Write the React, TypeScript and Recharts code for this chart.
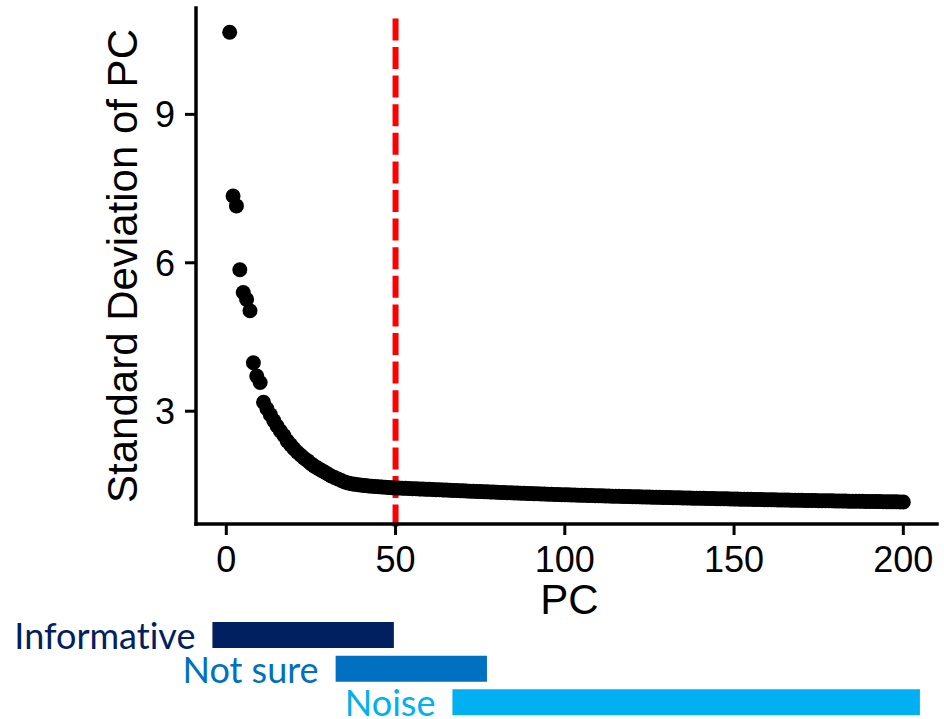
import React from 'react';
import {
  ScatterChart,
  Scatter,
  XAxis,
  YAxis,
  ReferenceLine,
  BarChart,
  Bar,
  Cell,
  LabelList,
} from 'recharts';

// PC index (x categories)
const pcNumbers: number[] = Array.from({ length: 200 }, (_, i) => i + 1);

// Standard deviation of each PC
const sdValues: number[] = [
  10.66, 7.35, 7.15, 5.86, 5.40, 5.26, 5.03, 3.98, 3.71, 3.58,
  3.18, 3.05, 2.93, 2.81, 2.70, 2.60, 2.51, 2.40, 2.32, 2.24,
  2.17, 2.11, 2.05, 2.00, 1.94, 1.89, 1.85, 1.81, 1.77, 1.73,
  1.69, 1.66, 1.63, 1.60, 1.57, 1.55, 1.535, 1.522, 1.512, 1.503,
  1.496, 1.490, 1.485, 1.480, 1.475, 1.470, 1.465, 1.460, 1.455, 1.450,
  1.447, 1.444, 1.441, 1.438, 1.435, 1.432, 1.429, 1.426, 1.423, 1.420,
  1.417, 1.414, 1.411, 1.408, 1.405, 1.402, 1.399, 1.396, 1.393, 1.390,
  1.387, 1.384, 1.382, 1.379, 1.376, 1.373, 1.370, 1.368, 1.365, 1.362,
  1.359, 1.357, 1.354, 1.351, 1.349, 1.346, 1.343, 1.341, 1.338, 1.336,
  1.333, 1.331, 1.328, 1.326, 1.323, 1.321, 1.318, 1.316, 1.313, 1.311,
  1.309, 1.307, 1.305, 1.303, 1.301, 1.299, 1.297, 1.295, 1.293, 1.291,
  1.289, 1.287, 1.285, 1.283, 1.282, 1.280, 1.278, 1.276, 1.274, 1.273,
  1.271, 1.269, 1.267, 1.266, 1.264, 1.262, 1.261, 1.259, 1.257, 1.256,
  1.254, 1.252, 1.251, 1.249, 1.248, 1.246, 1.244, 1.243, 1.241, 1.240,
  1.238, 1.237, 1.235, 1.234, 1.232, 1.231, 1.229, 1.228, 1.226, 1.225,
  1.223, 1.222, 1.220, 1.219, 1.218, 1.216, 1.215, 1.214, 1.212, 1.211,
  1.210, 1.208, 1.207, 1.206, 1.205, 1.203, 1.202, 1.201, 1.200, 1.198,
  1.197, 1.196, 1.195, 1.194, 1.192, 1.191, 1.190, 1.189, 1.188, 1.187,
  1.186, 1.184, 1.183, 1.182, 1.181, 1.180, 1.179, 1.178, 1.177, 1.176,
  1.175, 1.174, 1.173, 1.172, 1.171, 1.170, 1.169, 1.168, 1.167, 1.166,
];

const xTicks: number[] = [0, 50, 100, 150, 200];
const yTicks: number[] = [3, 6, 9];
const xDomain: [number, number] = [-8.95, 209.95];
const yDomain: [number, number] = [0.72, 11.15];

const cutoffPC = 50;
const cutoffTop = 10.94;
const cutoffBottom = 0.6;

// Annotation bands below the axis
const bandLabels: string[] = ['Informative', 'Not sure', 'Noise'];
const bandStart: number[] = [-4.1, 32.3, 66.8];
const bandEnd: number[] = [49.5, 77.0, 204.9];
const bandColors: string[] = ['#002060', '#0070C0', '#00B0F0'];

const scatterData = pcNumbers.map((pc, i) => ({ pc, sd: sdValues[i] }));
const bandData = bandLabels.map((name, i) => ({ name, range: [bandStart[i], bandEnd[i]] }));

const FONT = '"Liberation Sans", Arial, Helvetica, sans-serif';
const LABEL_FONT = 'Lato, "Open Sans", sans-serif';

const axisLine = { stroke: '#000', strokeWidth: 3.5, strokeLinecap: 'square' as const };
const tickLine = { stroke: '#000', strokeWidth: 3 };
const tickStyle = { fontSize: 36, fill: '#000', fontFamily: FONT };

const Dot = (props: any) => {
  const { cx, cy } = props;
  if (cx == null || cy == null) return null;
  return <circle cx={cx} cy={cy} r={7.5} fill="#000" />;
};

const YTitle = (props: any) => {
  const vb = props.viewBox || { x: 0, y: 8, width: 196, height: 516 };
  const cx = vb.x + vb.width - 74;
  const cy = vb.y + vb.height / 2;
  return (
    <text
      x={cx}
      y={cy}
      dy="0.36em"
      transform={`rotate(-90 ${cx} ${cy})`}
      textAnchor="middle"
      fontSize={42}
      fontFamily={FONT}
      fill="#000"
    >
      Standard Deviation of PC
    </text>
  );
};

const XTitle = (props: any) => {
  const vb = props.viewBox || { x: 196, y: 524, width: 741, height: 96 };
  const cx = vb.x + vb.width / 2 + 3;
  const by = vb.y + 90;
  return (
    <text x={cx} y={by} textAnchor="middle" fontSize={42} fontFamily={FONT} fill="#000">
      PC
    </text>
  );
};

const BandLabel = (props: any) => {
  const { x, y, height, value, index } = props;
  return (
    <text
      x={x - 17}
      y={y + height / 2 + 14}
      textAnchor="end"
      fontSize={36}
      fontFamily={LABEL_FONT}
      fill={bandColors[index]}
      style={{ fontVariantLigatures: 'none', fontFeatureSettings: '"liga" 0, "clig" 0' }}
    >
      {value}
    </text>
  );
};

export default function App() {
  return (
    <div style={{ position: 'absolute', left: 0, top: 0, width: 944, height: 719, background: '#fff' }}>
      <div style={{ position: 'absolute', left: 0, top: 0 }}>
        <ScatterChart width={944} height={719} margin={{ top: 8, right: 7, left: 0, bottom: 99 }}>
          <XAxis
            type="number"
            dataKey="pc"
            domain={xDomain}
            ticks={xTicks}
            allowDataOverflow
            height={96}
            axisLine={axisLine}
            tickLine={tickLine}
            tickSize={11}
            tickMargin={11}
            tick={tickStyle}
            label={{ content: XTitle }}
          />
          <YAxis
            type="number"
            dataKey="sd"
            domain={yDomain}
            ticks={yTicks}
            allowDataOverflow
            width={196}
            axisLine={axisLine}
            tickLine={tickLine}
            tickSize={11}
            tickMargin={10}
            tick={tickStyle}
            label={{ content: YTitle }}
          />
          <Scatter data={scatterData} shape={Dot} isAnimationActive={false} />
          <ReferenceLine
            segment={[
              { x: cutoffPC, y: cutoffTop },
              { x: cutoffPC, y: cutoffBottom },
            ]}
            ifOverflow="visible"
            stroke="#FF0000"
            strokeWidth={6}
            strokeDasharray="22 6.6"
          />
        </ScatterChart>
      </div>
      <div style={{ position: 'absolute', left: 0, top: 598 }}>
        <BarChart
          width={944}
          height={121}
          data={bandData}
          layout="vertical"
          margin={{ top: 20, right: 7, left: 196, bottom: 0 }}
          barCategoryGap={0}
        >
          <XAxis type="number" domain={xDomain} hide allowDataOverflow />
          <YAxis type="category" dataKey="name" hide />
          <Bar dataKey="range" barSize={26} isAnimationActive={false}>
            {bandData.map((d, i) => (
              <Cell key={d.name} fill={bandColors[i]} />
            ))}
            <LabelList dataKey="name" content={BandLabel} />
          </Bar>
        </BarChart>
      </div>
    </div>
  );
}
